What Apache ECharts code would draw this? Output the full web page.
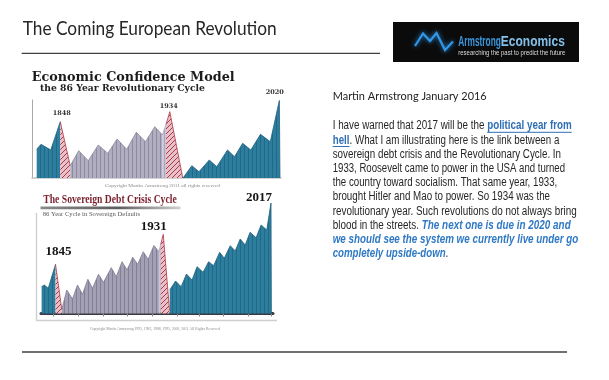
<!DOCTYPE html>
<html><head><meta charset="utf-8">
<script src="https://cdn.jsdelivr.net/npm/echarts@6/dist/echarts.min.js"></script>
<style>html,body{margin:0;padding:0;background:#fff}#c{width:609px;height:380px}</style>
</head><body><div id="c"></div>
<script>
// ---------- DATA: Economic Confidence Model (year, relative height) ----------
const ecmBlueEarly = [[1829.5,28.7],[1832.9,33.7],[1840.5,28],[1848,56.3]];
const ecmRedEarly  = [[1848,56.3],[1855.8,12.3]];
const ecmGray      = [[1855.8,12.3],[1862.5,27.3],[1870,17.3],[1877.8,33],[1885.3,24.7],[1892.6,39],[1900.2,28.7],[1907.7,45.7],[1914.9,36.3],[1922.2,51.3],[1928.2,43]];
const ecmLilac     = [[1928.2,43],[1931,53.5]];
const ecmRedLate   = [[1931,53.5],[1934,66.3],[1944.2,0]];
const ecmBlueLate  = [[1944.4,0],[1951.3,12.3],[1956.9,6.3],[1965,18],[1970.9,11.3],[1979.3,28],[1984.8,21.3],[1991.2,34.7],[1997.6,28],[2005.2,43.7],[2012.9,36.3],[2020,77.5],[2020.5,0]];
const ecmPeakLabels = ['1848','1934','2020'];

// ---------- DATA: Sovereign Debt Crisis Cycle ----------
const debtBlueEarly = [[1833.9,26.8],[1836,28.5],[1839.2,25.2],[1845,49.2]];
const debtRedEarly  = [[1845,49.2],[1850,4]];
const debtGray      = [[1850,4],[1854,23.5],[1858.5,14.5],[1862.5,28.5],[1866.5,19.2],[1870.8,34.2],[1874.5,25.2],[1879.3,39.2],[1883.3,31.2],[1889.5,45.8],[1893.5,36.8],[1898.1,51.8],[1902.1,43.5],[1906.6,56.2],[1910.6,49.2],[1915,61.8],[1919,54.2],[1923.5,68],[1927.5,61.8]];
const debtLilac     = [[1927.5,61.8],[1929,69.3]];
const debtRedLate   = [[1929,69.3],[1931,79.2],[1936,3]];
const debtBlueLate  = [[1936.2,23.5],[1940.8,32.5],[1945.3,26.8],[1949.5,39.5],[1954,33.5],[1958,46.8],[1962.8,41.2],[1967.2,51.8],[1971.2,47.8],[1976,61.2],[1979.7,55.2],[1984.5,67.8],[1988.4,62.5],[1992.4,74.5],[1996.4,68.5],[2000.3,81.2],[2005.1,75.8],[2009.1,88.5],[2013.6,83.5],[2017,110.5],[2017.3,0]];
const debtPeakLabels = ['1845','1931','2017'];
const debtTickYears = [1843,1863,1883,1902,1922,1942,1960,1979,1999,2017];

// ---------- TEXT ----------
const slideTitle = 'The Coming European Revolution';
const ecmTitle = 'Economic Confidence Model';
const ecmSubtitle = 'the 86 Year Revolutionary Cycle';
const ecmCopyright = 'Copyright Martin Armstrong 2011 all rights reserved';
const debtTitle = 'The Sovereign Debt Crisis Cycle';
const debtSubtitle = '86 Year Cycle in Sovereign Defaults';
const debtCopyright = 'Copyright Martin Armstrong 1995, 1983, 1988, 1995, 2001, 2011 All Rights Reserved';
const byline = 'Martin Armstrong January 2016';
const bodyLines = [
  [['I have warned that 2017 will be the ','n'],['political year from','l']],
  [['hell','l'],['. What I am illustrating here is the link between a','n']],
  [['sovereign debt crisis and the Revolutionary Cycle. In','n']],
  [['1933, Roosevelt came to power in the USA and turned','n']],
  [['the country toward socialism. That same year, 1933,','n']],
  [['brought Hitler and Mao to power. So 1934 was the','n']],
  [['revolutionary year. Such revolutions do not always bring','n']],
  [['blood in the streets. ','n'],['The next one is due in 2020 and','i']],
  [['we should see the system we currently live under go','i']],
  [['completely upside-down','i'],['.','n']]
];
const logoA = 'Armstrong', logoB = 'Economics';
const logoTag = 'researching the past to predict the future';

// ---------- helpers ----------
const mctx = document.createElement('canvas').getContext('2d');
function tw(t, font){ mctx.font = font; return mctx.measureText(t).width; }
function txt(t, x, y, font, fill, w){
  const s = w ? w / tw(t, font) : 1;
  return {type:'text', x:x, y:y, scaleX:s, silent:true, z:10,
    style:{text:t, x:0, y:0, font:font, fill:fill, textAlign:'left', textVerticalAlign:'middle', align:'left', verticalAlign:'middle'}};
}
function pat(w,h,base,draw){
  const c=document.createElement('canvas'); c.width=w; c.height=h;
  const g=c.getContext('2d'); g.fillStyle=base; g.fillRect(0,0,w,h); draw(g);
  return {image:c, repeat:'repeat'};
}
const stripe = (col)=> g=>{ g.fillStyle=col; g.fillRect(0,0,1,64); };
const diag = (col)=> g=>{ g.strokeStyle=col; g.lineWidth=1; g.beginPath(); g.moveTo(-1,6); g.lineTo(6,-1); g.stroke(); };
const blueFill  = pat(4,4,'#2c7d9e', stripe('#226988'));
const gray1Fill = pat(4,4,'#b1aec1', stripe('#8e8ba1'));
const gray2Fill = pat(4,4,'#a4a0b4', stripe('#827e96'));
const lilacFill = pat(4,4,'#cbc3da', stripe('#ada5c2'));
const redFill   = pat(5,5,'#e6c2c8', diag('#b1384b'));

const SERIF = '"DejaVu Serif", "Liberation Serif", serif';
const LSANS = '"Liberation Sans", Arial, sans-serif';

function area(data, gi, fill, edge, mp){
  const s = {type:'line', xAxisIndex:gi, yAxisIndex:gi, data:data, symbol:'none', showSymbol:false,
    silent:true, animation:false, lineStyle:{width:0.8, color:edge}, areaStyle:{color:fill, opacity:1}, z:2};
  if (mp) s.markPoint = mp;
  return s;
}
function peakMark(items, font, color){
  return {symbol:'circle', symbolSize:1, itemStyle:{color:'rgba(0,0,0,0)'}, animation:false, silent:true,
    label:{show:true, position:'inside', formatter:'{b}', font:font, fontFamily:font.fam, fontSize:font.size, fontWeight:'bold', color:color, align:'center', verticalAlign:'middle'},
    data: items.map(it=>({name:it.name, coord:it.coord, label:{offset:it.off}}))};
}
const last = a => a[a.length-1];
const peakOf = a => a.reduce((m,p)=>p[1]>m[1]?p:m, a[0]);

// ---------- graphics ----------
const G = [];
G.push(txt(slideTitle, 22.7, 28.5, '19px Lato, "Open Sans", sans-serif', '#262626', 254));
G.push({type:'line', silent:true, shape:{x1:21.7,y1:53.3,x2:380,y2:53.3}, style:{stroke:'#404040', lineWidth:1.3}});
G.push({type:'line', silent:true, shape:{x1:22,y1:352,x2:567,y2:352}, style:{stroke:'#404040', lineWidth:1.3}});

// logo
G.push({type:'rect', silent:true, shape:{x:393,y:22,width:186,height:40}, style:{fill:'#0b0b0b'}});
G.push({type:'polyline', silent:true, z:11, shape:{points:[[415,46],[423,33.5],[430,41],[436.5,33],[445,50],[453,41.5]]},
  style:{stroke:'#3197e6', lineWidth:2.2, fill:null, shadowBlur:5, shadowColor:'#2b8fe0'}});
G.push(txt(logoA, 458.3, 41.7, 'bold 15px ' + LSANS, '#3a96dc', 42.5));
G.push(txt(logoB, 500.8, 41.7, 'bold 15px ' + LSANS, '#82c0ea', 64));
G.push(txt(logoTag, 458.3, 53.3, '7px ' + LSANS, '#dcdcdc', 107));

// chart 1 titles
G.push(txt(ecmTitle, 31.7, 78, 'bold 13px ' + SERIF, '#1b1b1b', 203));
G.push(txt(ecmSubtitle, 40, 88.2, 'bold 9px ' + SERIF, '#222', 165));
G.push(txt(ecmCopyright, 105, 185.5, '5px "Liberation Serif", serif', '#8a8a8a', 115));

// chart 2 titles
G.push(txt(debtTitle, 43.3, 200, 'bold 12px "Liberation Serif", serif', '#7a1f2c', 133.4));
G.push({type:'rect', silent:true, shape:{x:40.5,y:206.6,width:140,height:2.6},
  style:{fill:{type:'linear',x:0,y:0,x2:1,y2:0,colorStops:[{offset:0,color:'#8a8a8a'},{offset:0.55,color:'#5e5e5e'},{offset:1,color:'#d0d0d0'}]}}});
G.push(txt(debtSubtitle, 42.7, 214.5, '7px "Liberation Serif", serif', '#5a5a5a', 97.3));
G.push(txt(debtCopyright, 90, 329, '4.5px "Liberation Serif", serif', '#8a8a8a', 130));
G.push({type:'polyline', silent:true, shape:{points:[[36.5,213],[36.5,320.5],[277,320.5]]}, style:{stroke:'#cfcfcf', lineWidth:1.4, fill:null}});

// right-hand text
G.push(txt(byline, 332.7, 96.7, '11px Lato, "Open Sans", sans-serif', '#222', 154));
const FONTS = {n:'12px ' + LSANS, l:'bold 12px ' + LSANS, i:'italic bold 12px ' + LSANS};
const COLS = {n:'#262626', l:'#2f6fb6', i:'#2f79c4'};
const bodyRight = [571.7,559.3,561,565,557.3,550,576.7,570.7,578.3,448.3];
bodyLines.forEach((segs, i)=>{
  const y = 126 + i*14.2, x0 = 332.7;
  const total = segs.reduce((s,sg)=>s+tw(sg[0], FONTS[sg[1]]), 0);
  const sc = (bodyRight[i]-x0)/total;
  let x = x0;
  segs.forEach(sg=>{
    const w = tw(sg[0], FONTS[sg[1]])*sc;
    G.push(txt(sg[0], x, y, FONTS[sg[1]], COLS[sg[1]], w));
    if (sg[1]==='l') G.push({type:'line', silent:true, z:10, shape:{x1:x,y1:y+6.3,x2:x+w,y2:y+6.3}, style:{stroke:COLS.l, lineWidth:1}});
    x += w;
  });
});

// ---------- chart ----------
const f1 = {fam:'DejaVu Serif', size:6.5};
const f2 = {fam:'Liberation Serif', size:13};
const ecmPeaks = [last(ecmBlueEarly), peakOf(ecmRedLate), peakOf(ecmBlueLate)];
const debtPeaks = [last(debtBlueEarly), peakOf(debtRedLate), peakOf(debtBlueLate)];

const option = {
  animation:false,
  backgroundColor:'#fff',
  grid:[
    {left:32, top:100, width:249, height:78},
    {left:41, top:201.5, width:232, height:112}
  ],
  xAxis:[
    {type:'value', gridIndex:0, min:1825.8, max:2021.3, axisLine:{show:true, lineStyle:{color:'#c4c4c4', width:1.5}},
      axisTick:{show:false}, axisLabel:{show:false}, splitLine:{show:false}},
    {type:'value', gridIndex:1, min:1833.4, max:2018.6, axisLine:{show:true, lineStyle:{color:'#3a3a46', width:3}},
      axisTick:{show:true, length:3, lineStyle:{color:'#8a8a8a', width:1}, customValues:debtTickYears},
      axisLabel:{show:false}, splitLine:{show:false}}
  ],
  yAxis:[
    {type:'value', gridIndex:0, min:0, max:78, axisLine:{show:true, lineStyle:{color:'#a8a8a8', width:1}},
      axisTick:{show:false}, axisLabel:{show:false}, splitLine:{show:false}},
    {type:'value', gridIndex:1, min:0, max:112, axisLine:{show:false}, axisTick:{show:false}, axisLabel:{show:false}, splitLine:{show:false}}
  ],
  series:[
    area(ecmBlueEarly, 0, blueFill, '#1f5f7c', peakMark([
      {name:ecmPeakLabels[0], coord:ecmPeaks[0], off:[1.5,-8.5]},
      {name:ecmPeakLabels[1], coord:ecmPeaks[1], off:[-1,-5]},
      {name:ecmPeakLabels[2], coord:ecmPeaks[2], off:[-4.5,-8]}], f1, '#333')),
    area(ecmRedEarly, 0, redFill, '#b1384b'),
    area(ecmGray, 0, gray1Fill, '#8a879c'),
    area(ecmLilac, 0, lilacFill, '#aaa2bf'),
    area(ecmRedLate, 0, redFill, '#b1384b'),
    area(ecmBlueLate, 0, blueFill, '#1f5f7c'),
    area(debtBlueEarly, 1, blueFill, '#1f5f7c', peakMark([
      {name:debtPeakLabels[0], coord:debtPeaks[0], off:[3,-12.5]},
      {name:debtPeakLabels[1], coord:debtPeaks[1], off:[-9.5,-7.5]},
      {name:debtPeakLabels[2], coord:debtPeaks[2], off:[-12,-5.5]}], f2, '#151515')),
    area(debtRedEarly, 1, redFill, '#b1384b'),
    area(debtGray, 1, gray2Fill, '#7f7b93'),
    area(debtLilac, 1, lilacFill, '#aaa2bf'),
    area(debtRedLate, 1, redFill, '#b1384b'),
    area(debtBlueLate, 1, blueFill, '#1f5f7c')
  ],
  graphic:{elements:G}
};
const chart = echarts.init(document.getElementById('c'), null, {renderer:'canvas'});
chart.setOption(option);
</script>
</body></html>
